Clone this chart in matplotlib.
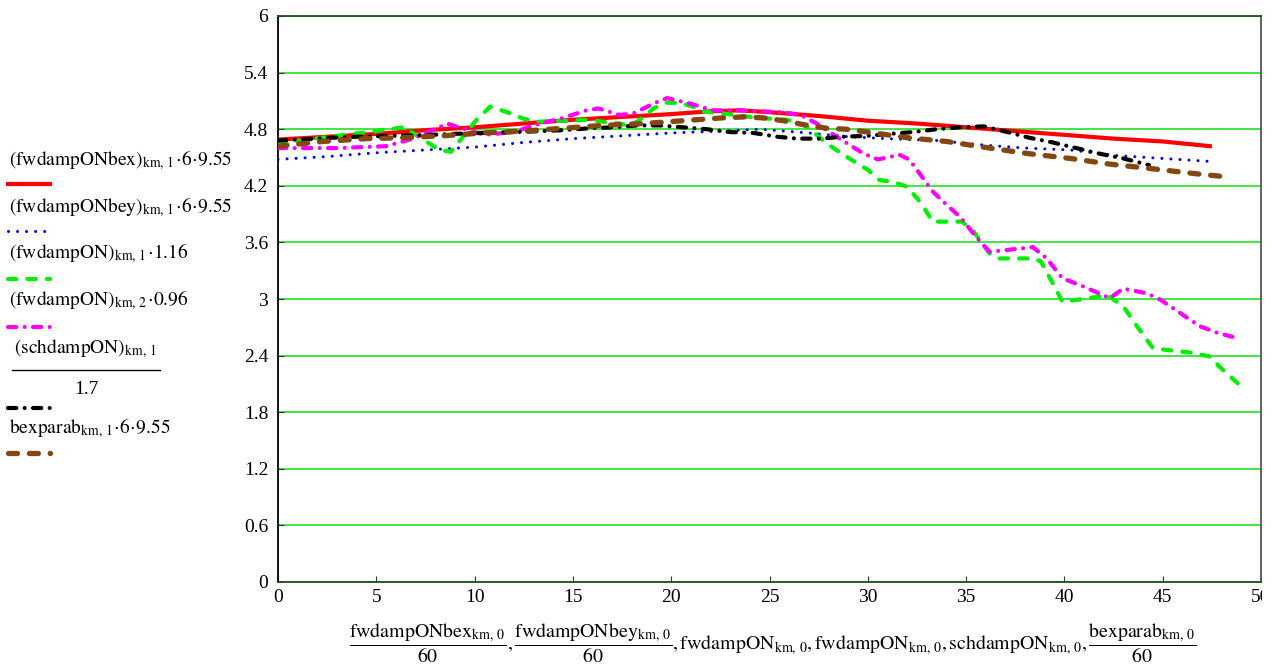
"""Mathcad-style damping traces: six scaled series against time (min)."""

import matplotlib
matplotlib.use("Agg")
import matplotlib.pyplot as plt
from matplotlib.lines import Line2D
from matplotlib.patches import Rectangle

W, H = 1277, 666

# fwdampONbex * 6 * 9.55 (red, solid)
bex_x = [0, 2.5, 5, 7.5, 10, 12.5, 15, 17.5, 20, 22, 23.5, 25, 27.5, 30,
         32.5, 35, 37.5, 40, 42.5, 45, 47.4]
bex_y = [4.69, 4.72, 4.75, 4.79, 4.82, 4.86, 4.90, 4.93, 4.96, 4.99, 5.00,
         4.98, 4.94, 4.89, 4.86, 4.82, 4.78, 4.74, 4.70, 4.67, 4.62]

# fwdampONbey * 6 * 9.55 (blue, dotted)
bey_x = [0, 2.5, 5, 7.5, 10, 12.5, 15, 17.5, 20, 22.5, 24.5, 27, 29, 31,
         33.5, 36, 38, 40.3, 42.7, 45, 47.3]
bey_y = [4.48, 4.51, 4.55, 4.58, 4.61, 4.66, 4.70, 4.73, 4.76, 4.78, 4.80,
         4.76, 4.72, 4.70, 4.68, 4.63, 4.60, 4.58, 4.52, 4.49, 4.46]

# fwdampON col 1 * 1.16 (green, dashed)
on1_x = [0, 0.8, 2.6, 4.2, 5.7, 6.4, 7.4, 8.2, 8.8, 10.1, 10.8, 11.8, 12.5,
         13.3, 14.9, 15.7, 16.5, 17.4, 17.9, 18.6, 19.1, 19.7, 20.4, 21.1,
         21.6, 23.3, 24.4, 25.9, 26.9, 27.9, 28.9, 30.0, 30.6, 31.3, 32.0,
         32.7, 33.3, 34.0, 34.8, 35.4, 36.2, 36.7, 38.4, 38.8, 39.4, 39.9,
         40.6, 42.2, 43.0, 43.7, 44.5, 45.2, 46.5, 47.4, 47.9, 48.9]
on1_y = [4.64, 4.67, 4.72, 4.76, 4.80, 4.82, 4.69, 4.58, 4.56, 4.90, 5.04,
         4.97, 4.91, 4.88, 4.89, 4.90, 4.88, 4.86, 4.83, 4.93, 5.02, 5.08,
         5.08, 5.04, 4.99, 4.95, 4.92, 4.90, 4.83, 4.65, 4.51, 4.37, 4.26,
         4.24, 4.19, 4.02, 3.82, 3.82, 3.82, 3.71, 3.48, 3.43, 3.43, 3.40,
         3.17, 2.97, 2.99, 3.04, 2.92, 2.71, 2.48, 2.46, 2.43, 2.39, 2.28,
         2.09]

# fwdampON col 2 * 0.96 (magenta, dash-dot)
on2_x = [0, 3, 5.5, 6.7, 8.1, 8.6, 9.5, 10.5, 12, 13, 14.5, 15.7, 16.3, 17.4,
         18.1, 19.3, 19.8, 21, 22.1, 23.3, 24.5, 25.7, 26.6, 27.4, 28.2, 29.1,
         29.8, 30.5, 31, 31.6, 32.1, 32.5, 33.3, 34, 34.7, 35.5, 36.2, 37.1,
         38.4, 39.1, 39.9, 41, 42.3, 43, 44.2, 44.9, 45.9, 46.9, 47.8, 48.9]
on2_y = [4.60, 4.60, 4.62, 4.69, 4.81, 4.86, 4.80, 4.74, 4.77, 4.84, 4.92,
         5.00, 5.02, 4.95, 4.97, 5.09, 5.13, 5.07, 5.00, 5.00, 4.99, 4.98,
         4.95, 4.86, 4.75, 4.63, 4.54, 4.48, 4.50, 4.53, 4.48, 4.37, 4.14,
         4.00, 3.87, 3.66, 3.50, 3.52, 3.55, 3.43, 3.22, 3.13, 3.01, 3.11,
         3.06, 2.99, 2.85, 2.71, 2.64, 2.58]

# schdampON / 1.7 (black, dash-dot)
sch_x = [0, 2.8, 4.0, 7.7, 10.1, 12.2, 14.5, 15.9, 17, 18.3, 19.4, 20.6, 21.8,
         23, 24.2, 25.4, 26.4, 27.6, 28.7, 30, 31.1, 32.3, 33.5, 34.7, 35.9,
         37.1, 38.2, 39.4, 40.6, 41.8, 43, 44.3]
sch_y = [4.68, 4.71, 4.72, 4.74, 4.76, 4.77, 4.79, 4.81, 4.82, 4.84, 4.84,
         4.82, 4.80, 4.77, 4.76, 4.72, 4.70, 4.70, 4.72, 4.73, 4.75, 4.77,
         4.80, 4.82, 4.83, 4.77, 4.71, 4.66, 4.60, 4.54, 4.49, 4.42]

# bexparab * 6 * 9.55 (brown, dashed)
par_x = [0, 2.3, 4.5, 6.4, 8.4, 10.4, 12.5, 14.5, 16.5, 18.6, 20.6, 22.6,
         23.7, 24.7, 25.7, 26.7, 27.9, 28.9, 30, 32, 34, 36.2, 38.2, 40.3,
         42.3, 44.5, 46.6, 48]
par_y = [4.62, 4.67, 4.70, 4.71, 4.73, 4.76, 4.78, 4.81, 4.84, 4.86, 4.89,
         4.92, 4.93, 4.92, 4.89, 4.85, 4.81, 4.80, 4.77, 4.71, 4.67, 4.60,
         4.54, 4.49, 4.43, 4.38, 4.33, 4.30]

x_ticks = [0, 5, 10, 15, 20, 25, 30, 35, 40, 45, 50]
y_ticks = [0, 0.6, 1.2, 1.8, 2.4, 3, 3.6, 4.2, 4.8, 5.4, 6]
y_tick_labels = ["0", "0.6", "1.2", "1.8", "2.4", "3", "3.6", "4.2", "4.8",
                 "5.4", "6"]

# legend labels; the 5th is a fraction (numerator, denominator)
legend_labels = [
    r"$\mathrm{(fwdampONbex)}_{\mathrm{km,\,1}}\!\cdot\!\mathrm{6}\!\cdot\!\mathrm{9.55}$",
    r"$\mathrm{(fwdampONbey)}_{\mathrm{km,\,1}}\!\cdot\!\mathrm{6}\!\cdot\!\mathrm{9.55}$",
    r"$\mathrm{(fwdampON)}_{\mathrm{km,\,1}}\!\cdot\!\mathrm{1.16}$",
    r"$\mathrm{(fwdampON)}_{\mathrm{km,\,2}}\!\cdot\!\mathrm{0.96}$",
    (r"$\mathrm{(schdampON)}_{\mathrm{km,\,1}}$", "1.7"),
    r"$\mathrm{bexparab}_{\mathrm{km,\,1}}\!\cdot\!\mathrm{6}\!\cdot\!\mathrm{9.55}$",
]

x_label = (r"$\dfrac{\mathrm{fwdampONbex}_{\mathrm{km,\,0}}}{\mathrm{60}}"
           r"\mathrm{,}\,\dfrac{\mathrm{fwdampONbey}_{\mathrm{km,\,0}}}{\mathrm{60}}"
           r"\mathrm{,}\,\mathrm{fwdampON}_{\mathrm{km,\,0}}"
           r"\mathrm{,}\,\mathrm{fwdampON}_{\mathrm{km,\,0}}"
           r"\mathrm{,}\,\mathrm{schdampON}_{\mathrm{km,\,0}}"
           r"\mathrm{,}\,\dfrac{\mathrm{bexparab}_{\mathrm{km,\,0}}}{\mathrm{60}}$")

plt.rcParams["font.family"] = ["Liberation Serif", "DejaVu Serif"]
plt.rcParams["mathtext.fontset"] = "stix"
plt.rcParams["lines.scale_dashes"] = False

BROWN = "#84470f"
styles = [
    dict(color="#ff0000", lw=3.0, ls="-"),
    dict(color="#0000ff", lw=2.2, ls=(0, (0.01, 6.5)), dash_capstyle="round"),
    dict(color="#00ee00", lw=3.0, ls=(0, (6.0, 8.0)), dash_capstyle="round"),
    dict(color="#ff00ff", lw=3.0, ls=(0, (6.0, 6.0, 0.01, 6.0)),
         dash_capstyle="round"),
    dict(color="#000000", lw=3.0, ls=(0, (6.0, 6.0, 0.01, 6.0)),
         dash_capstyle="round"),
    dict(color=BROWN, lw=3.8, ls=(0, (6.5, 8.5)), dash_capstyle="round"),
]


def fx(px):
    return px / W


def fy(py):
    return 1 - py / H


def main() -> None:
    fig = plt.figure(figsize=(W / 100, H / 100), dpi=100)
    ax = fig.add_axes([fx(278), fy(582), fx(1261) - fx(278), fy(16) - fy(582)])

    series = [(bex_x, bex_y), (bey_x, bey_y), (on1_x, on1_y),
              (on2_x, on2_y), (sch_x, sch_y), (par_x, par_y)]
    for (xs, ys), st in zip(series, styles):
        ax.plot(xs, ys, **st, zorder=3)

    ax.set_xlim(0, 50)
    ax.set_ylim(0, 6)
    ax.set_yticks(y_ticks, y_tick_labels)
    ax.set_xticks(x_ticks, [str(t) for t in x_ticks])
    ax.tick_params(direction="in", length=4, width=0.8, labelsize=14,
                   color="#333333")
    ax.tick_params(axis="x", pad=5)
    ax.tick_params(axis="y", pad=7)
    ax.yaxis.grid(True, color="#22e022", lw=1.2, zorder=1)

    for side in ("top", "bottom"):
        ax.spines[side].set_color("#1f4f1f")
        ax.spines[side].set_linewidth(1.3)
    ax.spines["left"].set_color("#000000")
    ax.spines["left"].set_linewidth(1.3)
    ax.spines["right"].set_color("#555555")
    ax.spines["right"].set_linewidth(1.3)

    # last x tick label is cut by the page edge in the original
    clip = Rectangle((0, 0), fx(1262), 1, transform=fig.transFigure)
    last = ax.get_xticklabels()[-1]
    last.set_clip_path(clip)
    last.set_clip_on(True)

    # legend block on the left, Mathcad style: label then sample line
    text_y = [160, 207, 253, 300, 370, 428]
    line_y = [184, 231, 279, 327, 408, 453]
    for lab, ty, ly, st in zip(legend_labels, text_y, line_y, styles):
        if isinstance(lab, tuple):
            num, den = lab
            fig.text(fx(14), fy(ty - 21), num, fontsize=14, ha="left",
                     va="center")
            fig.add_artist(Line2D([fx(12), fx(160)], [fy(ty), fy(ty)],
                                  transform=fig.transFigure, color="black",
                                  lw=1.0))
            fig.text(fx(86), fy(ty + 19), den, fontsize=14, ha="center",
                     va="center")
        else:
            fig.text(fx(9), fy(ty), lab, fontsize=14, ha="left", va="center")
        fig.add_artist(Line2D([fx(8), fx(50)], [fy(ly), fy(ly)],
                              transform=fig.transFigure, color=st["color"],
                              lw=st["lw"], ls=st["ls"],
                              dash_capstyle=st.get("dash_capstyle", "butt")))

    fig.text(fx(773), fy(643), x_label, fontsize=14.3, ha="center",
             va="center")

    fig.savefig("out.png", dpi=100, facecolor="white")


if __name__ == "__main__":
    main()
